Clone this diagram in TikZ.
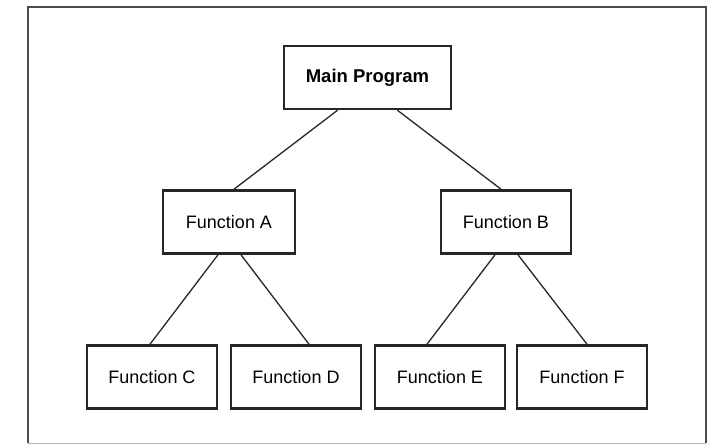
\documentclass[tikz,border=0pt]{standalone}
\usepackage{fontspec}
\setmainfont{Liberation Sans}
\begin{document}
\begin{tikzpicture}[x=1pt,y=-1pt,
  fbox/.style={draw=black!85, line width=2.6pt, minimum height=63pt, inner sep=0pt, font=\fontsize{18}{20}\selectfont},
  link/.style={draw=black!85, line width=1.3pt}]
\useasboundingbox (0,0) rectangle (712,444);
\draw[black!70, line width=1.8pt] (28,443) -- (28,7) -- (706,7) -- (706,443);
\draw[black!30, line width=1pt] (28,443) -- (706,443);
\node[fbox, minimum width=167pt, font=\fontsize{18.5}{20}\selectfont\bfseries] (m) at (367.5,77.5) {Main Program};
\node[fbox, minimum width=132pt] (a) at (229,222) {Function A};
\node[fbox, minimum width=130pt] (b) at (506,222) {Function B};
\node[fbox, minimum width=130pt] (c) at (152,377) {Function C};
\node[fbox, minimum width=130pt] (d) at (296,377) {Function D};
\node[fbox, minimum width=130pt] (e) at (440,377) {Function E};
\node[fbox, minimum width=130pt] (f) at (582,377) {Function F};
\draw[link] ([xshift=-30pt]m.south) -- ([xshift=5pt]a.north);
\draw[link] ([xshift=30pt]m.south) -- ([xshift=-5pt]b.north);
\draw[link] ([xshift=-11pt]a.south) -- ([xshift=-2pt]c.north);
\draw[link] ([xshift=12pt]a.south) -- ([xshift=13pt]d.north);
\draw[link] ([xshift=-11pt]b.south) -- ([xshift=-13pt]e.north);
\draw[link] ([xshift=12pt]b.south) -- ([xshift=5pt]f.north);
\end{tikzpicture}
\end{document}
